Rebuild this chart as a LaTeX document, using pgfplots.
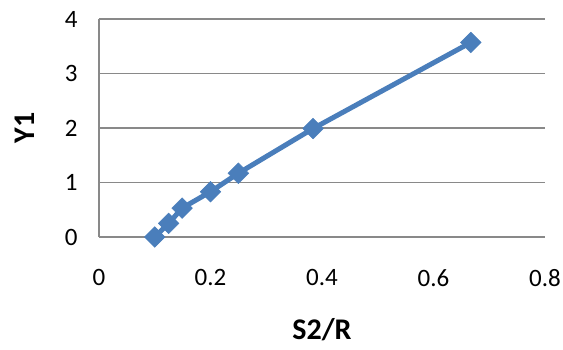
\documentclass[border=0pt]{standalone}
\usepackage{pgfplots}
\pgfplotsset{compat=1.18}
\usepackage{fontspec}
\setmainfont{Carlito}
\definecolor{series}{HTML}{4A7EBB}
\definecolor{gridc}{HTML}{898989}
\begin{document}
\begin{tikzpicture}[x=1pt,y=1pt]
\path[use as bounding box] (0,0) rectangle (563,349);
\begin{axis}[
  at={(99pt,112pt)}, anchor=south west,
  scale only axis, width=446pt, height=218pt,
  xmin=0, xmax=0.8, ymin=0, ymax=4,
  xtick={0,0.2,0.4,0.6,0.8}, ytick={0,1,2,3,4},
  axis lines*=left,
  axis line style={gridc, line width=1.3pt, -},
  ymajorgrids, grid style={gridc, line width=1.3pt},
  major tick length=0pt,
  tick label style={font=\fontsize{25}{30}\selectfont},
  /pgf/number format/assume math mode=true,
  xticklabel style={yshift=-29pt},
  yticklabel style={xshift=-18pt},
  xlabel={S2/R}, ylabel={Y1},
  label style={font=\fontsize{30}{34}\selectfont\bfseries, inner sep=0pt},
  xlabel style={at={([yshift=-93pt]axis description cs:0.5,0)}, anchor=center},
  ylabel style={at={([xshift=-74pt]axis description cs:0,0.5)}, anchor=center},
  clip=false,
]
\addplot[color=series, line width=5pt, mark=square*, mark size=7.3pt,
  mark options={fill=series, draw=series, line width=0.5pt, rotate=45}]
  coordinates {(0.1,0) (0.125,0.25) (0.149,0.53) (0.2,0.83) (0.25,1.17) (0.384,1.99) (0.667,3.57)};
\end{axis}
\end{tikzpicture}
\end{document}
